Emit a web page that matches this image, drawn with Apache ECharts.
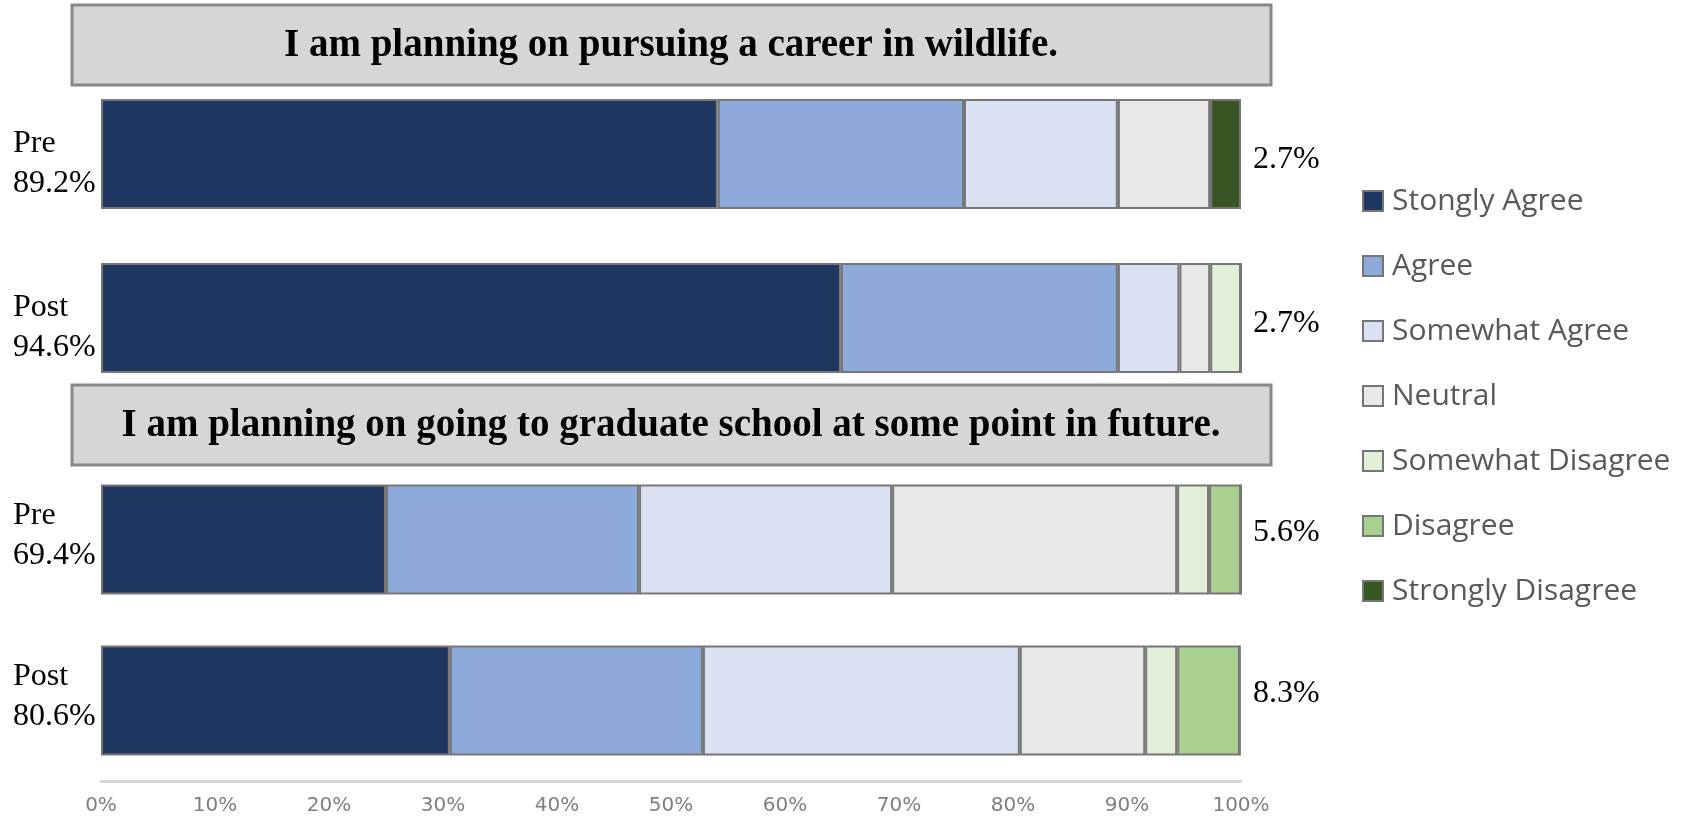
<!DOCTYPE html>
<html>
<head>
<meta charset="utf-8">
<script src="https://cdn.jsdelivr.net/npm/echarts@6/dist/echarts.min.js"></script>
<style>
  html, body { margin: 0; padding: 0; background: #fff; }
  #chart { width: 1683px; height: 824px; }
</style>
</head>
<body>
<div id="chart"></div>
<script>
const questions = [
  'I am planning on pursuing a career in wildlife.',
  'I am planning on going to graduate school at some point in future.'
];
const groups = ['Pre', 'Post'];
const levels = ['Stongly Agree', 'Agree', 'Somewhat Agree', 'Neutral', 'Somewhat Disagree', 'Disagree', 'Strongly Disagree'];
const levelColors = ['#1f3660', '#8eaadb', '#d9e1f2', '#e9e9e9', '#e2efd9', '#a9d08e', '#375623'];

// percent per level, rows = Pre, Post
const careerValues = [
  [54.1, 21.6, 13.5, 8.1, 0, 0, 2.7],
  [64.9, 24.3, 5.4, 2.7, 2.7, 0, 0]
];
const gradValues = [
  [25.0, 22.2, 22.2, 25.0, 2.8, 2.8, 0],
  [30.6, 22.2, 27.8, 11.0, 2.8, 5.5, 0]
];
const careerAgree = ['89.2%', '94.6%'];
const careerDisagree = ['2.7%', '2.7%'];
const gradAgree = ['69.4%', '80.6%'];
const gradDisagree = ['5.6%', '8.3%'];
const xTicks = [0, 10, 20, 30, 40, 50, 60, 70, 80, 90, 100];

function creatChart(){
  const chart = echarts.init(document.getElementById('chart'));
  const serif = '"Liberation Serif", "Times New Roman", serif';

  // spacer lines nudge the side labels up/down a bit (positive = down)
  function spaced(lines, shift){
    let txt = lines.map(l => '{t|' + l + '}').join('\n');
    if (shift > 0) txt = '{s' + shift + '|}\n' + txt;
    if (shift < 0) txt = txt + '\n{s' + (-shift) + '|}';
    return txt;
  }
  function richFor(shift, lh){
    const r = { t: { fontFamily: serif, fontSize: 32, lineHeight: lh, color: '#000' } };
    const h = Math.abs(shift);
    if (h) r['s' + h] = { height: h * 2, lineHeight: h * 2, fontSize: 1 };
    return r;
  }

  function yAxes(gridIndex, agree, disagree, leftShift, rightShift){
    return [
      {
        type: 'category', gridIndex: gridIndex, data: groups, inverse: true,
        axisLine: { show: false }, axisTick: { show: false },
        axisLabel: {
          align: 'left', margin: 88,
          rich: richFor(leftShift, 40),
          formatter: (v, i) => spaced([v, agree[i]], leftShift)
        }
      },
      {
        type: 'category', gridIndex: gridIndex, data: groups, inverse: true, position: 'right',
        axisLine: { show: false }, axisTick: { show: false },
        axisLabel: {
          margin: 12,
          rich: richFor(rightShift, 36),
          formatter: (v, i) => spaced([disagree[i]], rightShift)
        }
      }
    ];
  }

  function makeSeries(values, gridIndex, stack){
    return levels.map((name, k) => ({
      name: name,
      type: 'bar',
      stack: stack,
      xAxisIndex: gridIndex,
      yAxisIndex: gridIndex * 2,
      barWidth: 110,
      itemStyle: { color: levelColors[k], borderColor: '#767676', borderWidth: 2 },
      emphasis: { disabled: true },
      data: values.map(row => row[k])
    }));
  }

  function titleBox(top, text){
    return {
      type: 'group',
      children: [
        {
          type: 'rect',
          shape: { x: 72, y: top, width: 1199, height: 80 },
          style: { fill: '#d6d6d6', stroke: '#878787', lineWidth: 3 }
        },
        {
          type: 'text',
          x: 671, y: top + 41,
          style: {
            text: text, fill: '#000', align: 'center', verticalAlign: 'middle',
            font: 'bold 39px ' + serif
          }
        }
      ]
    };
  }

  const chart_option = {
    animation: false,
    grid: [
      { left: 101, right: 442, top: 72, height: 328 },
      { left: 101, right: 442, top: 459, height: 322 }
    ],
    legend: {
      orient: 'vertical',
      left: 1362,
      top: 186,
      padding: 0,
      itemWidth: 20,
      itemHeight: 20,
      itemGap: 35,
      icon: 'rect',
      data: levels,
      selectedMode: false,
      textStyle: { color: '#595959', fontFamily: '"Open Sans", sans-serif', fontSize: 30, lineHeight: 30, padding: [0, 0, 0, 4] }
    },
    xAxis: [
      { type: 'value', gridIndex: 0, min: 0, max: 100, show: false, splitLine: { show: false } },
      {
        type: 'value', gridIndex: 1, min: xTicks[0], max: xTicks[xTicks.length - 1], interval: 10,
        splitLine: { show: false },
        axisTick: { show: false },
        axisLine: { show: true, lineStyle: { color: '#d9d9d9', width: 3 } },
        axisLabel: { color: '#7f7f7f', fontFamily: '"DejaVu Sans", sans-serif', fontSize: 20, margin: 15, formatter: '{value}%' }
      }
    ],
    yAxis: [].concat(
      yAxes(0, careerAgree, careerDisagree, 10, 6),
      yAxes(1, gradAgree, gradDisagree, -4, -7)
    ),
    series: [].concat(makeSeries(careerValues, 0, 'career'), makeSeries(gradValues, 1, 'grad')),
    graphic: [titleBox(5, questions[0]), titleBox(385, questions[1])]
  };
  chart.setOption(chart_option);
}
window.onload = function(){
  creatChart();
};
</script>
</body>
</html>
